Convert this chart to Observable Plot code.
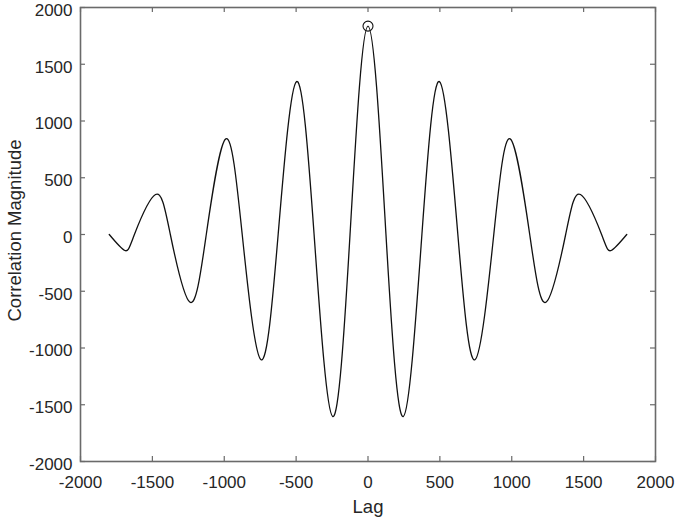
<!DOCTYPE html>
<html>
<head>
<meta charset="utf-8">
<script src="https://cdn.jsdelivr.net/npm/d3@7"></script>
<script src="https://cdn.jsdelivr.net/npm/@observablehq/plot@0.6"></script>
<style>
  body { margin: 0; background: white; }
</style>
</head>
<body>
<div id="chart"></div>
<script>
const lags = [-1800, -1692, -1625, -1478, -1375, -1238, -1125, -989, -875, -744, -625, -497, -375, -246, -125, 0,
              125, 246, 375, 497, 625, 744, 875, 989, 1125, 1238, 1375, 1478, 1625, 1692, 1800];
const magnitudes = [0, -141, 0, 352, 0, -597, 0, 843, 0, -1104, 0, 1347, 0, -1603, 0, 1836,
                    0, -1603, 0, 1347, 0, -1104, 0, 843, 0, -597, 0, 352, 0, -141, 0];
const peakLag = [0];
const peakValue = [1836];
const xTicks = [-2000, -1500, -1000, -500, 0, 500, 1000, 1500, 2000];
const yTicks = [-2000, -1500, -1000, -500, 0, 500, 1000, 1500, 2000];
const xLabel = "Lag";
const yLabel = "Correlation Magnitude";

const data = lags.map((l, i) => ({lag: l, value: magnitudes[i]}));
const peak = peakLag.map((l, i) => ({lag: l, value: peakValue[i]}));

const axisColor = "#6a6a6a";
const textColor = "#262626";
const fmt = d => String(d);

const chart = Plot.plot({
  width: 676,
  height: 521,
  marginLeft: 80,
  marginRight: 21,
  marginTop: 7,
  marginBottom: 60,
  style: {fontFamily: "'Liberation Sans', Arial, sans-serif", fontSize: "17px", background: "white", color: textColor},
  x: {domain: [-2000, 2000]},
  y: {domain: [-2000, 2000]},
  marks: [
    Plot.line(data, {x: "lag", y: "value", curve: "natural", stroke: "#111", strokeWidth: 1.3}),
    Plot.dot(peak, {x: "lag", y: "value", r: 5, stroke: "#111", fill: "none", strokeWidth: 1.1}),
    Plot.tickX(xTicks, {x: d => d, insetTop: 449, stroke: axisColor, strokeWidth: 1.2}),
    Plot.tickX(xTicks, {x: d => d, insetBottom: 449, stroke: axisColor, strokeWidth: 1.2}),
    Plot.tickY(yTicks, {y: d => d, insetRight: 570, stroke: axisColor, strokeWidth: 1.2}),
    Plot.tickY(yTicks, {y: d => d, insetLeft: 570, stroke: axisColor, strokeWidth: 1.2}),
    Plot.frame({stroke: axisColor, strokeWidth: 1.6}),
    Plot.axisX({ticks: xTicks, tickSize: 0, tickPadding: 14, tickFormat: fmt, fontSize: 17, fill: textColor, label: null}),
    Plot.axisY({ticks: yTicks, tickSize: 0, tickPadding: 8, dy: 3, tickFormat: fmt, fontSize: 17, fill: textColor, label: null}),
    Plot.text([xLabel], {text: d => d, frameAnchor: "bottom", lineAnchor: "bottom", dy: 51, fontSize: 18.5, fill: textColor}),
    Plot.text([yLabel], {text: d => d, frameAnchor: "left", rotate: -90, lineAnchor: "bottom", textAnchor: "middle", dx: -60, dy: -4, fontSize: 18.5, fill: textColor})
  ]
});
document.getElementById("chart").appendChild(chart);
</script>
</body>
</html>
